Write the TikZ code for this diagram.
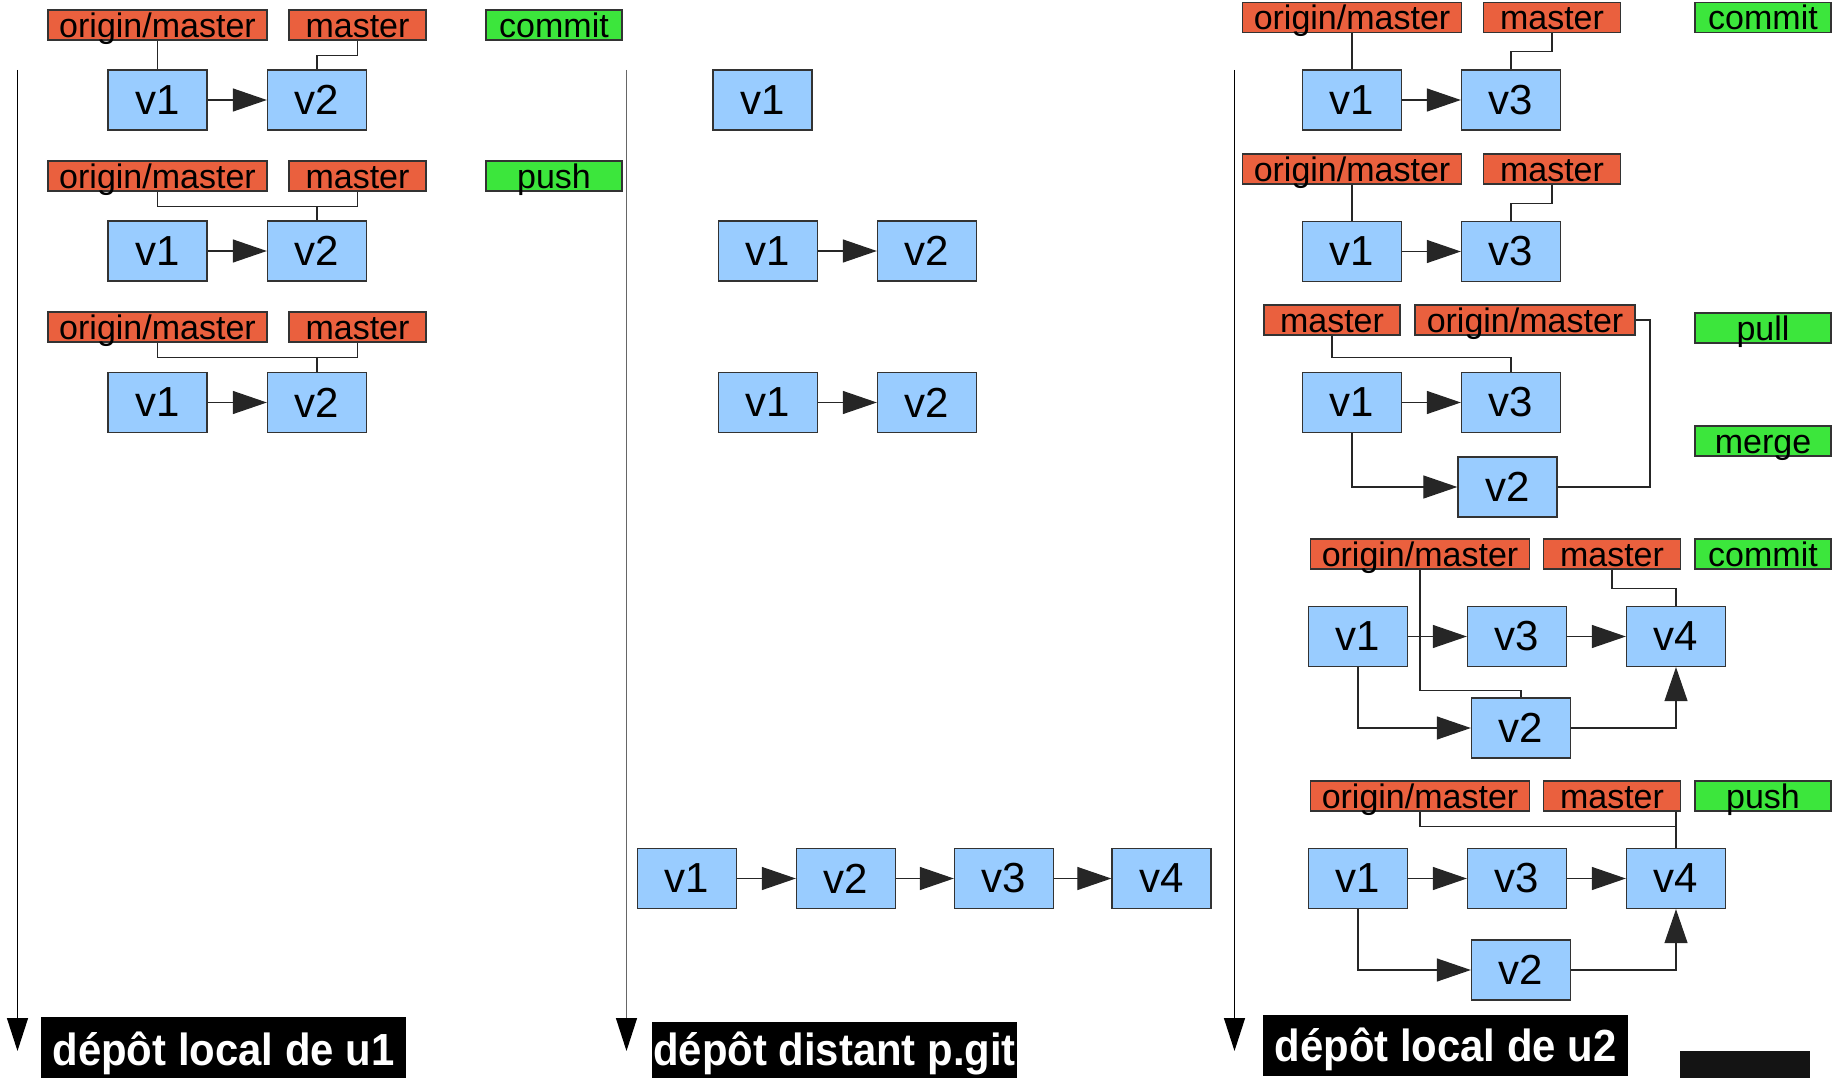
\documentclass[tikz,border=0pt]{standalone}
\usepackage{fontspec}
\setmainfont{Liberation Sans}
\newfontfamily\repofont{Liberation Sans}[FakeStretch=0.93]
\usetikzlibrary{arrows.meta}

\definecolor{refred}{HTML}{EA603E}
\definecolor{cmdgreen}{HTML}{3CE63C}
\definecolor{commitblue}{HTML}{99CCFF}

\tikzset{
  commitbox/.style={draw=black!80, line width=1.3pt, fill=commitblue,
    minimum width=99pt, minimum height=60pt, inner sep=0pt,
    font=\fontsize{42}{50}\selectfont},
  refbox/.style={draw=black!80, line width=1.3pt, fill=refred,
    minimum height=30pt, inner sep=0pt, text height=25pt, text depth=0pt,
    font=\fontsize{34}{40}\selectfont},
  longref/.style={refbox, minimum width=219pt},
  shortref/.style={refbox, minimum width=137pt},
  cmdbox/.style={refbox, fill=cmdgreen, minimum width=136pt},
  link/.style={draw=black!85, line width=1.2pt},
  nextc/.style={link, -{Triangle[length=34pt,width=23pt]}},
  timeline/.style={line width=1.3pt, -{Triangle[length=33pt,width=21pt,color=black]}},
  repotitle/.style={fill=black, text=white, inner sep=0pt,
    minimum width=365pt, minimum height=61pt, text depth=0pt,
    font=\repofont\fontsize{45}{52}\selectfont\bfseries},
}

\begin{document}
\begin{tikzpicture}[x=1pt,y=-1pt]
\useasboundingbox (0,0) rectangle (1832,1078);

% ---------- time axes ----------
\coordinate (t1s) at (17.5,70);   \coordinate (t1e) at (17.5,1051);
\coordinate (t2s) at (626.5,70);  \coordinate (t2e) at (626.5,1051);
\coordinate (t3s) at (1234.5,70); \coordinate (t3e) at (1234.5,1051);
\draw[timeline] (t1s) -- (t1e);
\draw[timeline, draw=black!60] (t2s) -- (t2e);
\draw[timeline] (t3s) -- (t3e);

% ---------- local repository of u1 ----------
% step 1: commit
\node[longref]  (a1o) at (157.5,25) {origin/master};
\node[shortref] (a1m) at (357.5,25) {master};
\node[cmdbox]   (a1c) at (554,25) {commit};
\node[commitbox] (a1v1) at (157.5,100) {v1};
\node[commitbox] (a1v2) at (317,100) {v2};
\draw[nextc] (a1v1) -- (a1v2);
\draw[link] (a1o.south) -- (a1v1.north);
\draw[link] (a1m.south) -- ++(0,15) -| (a1v2.north);

% step 2: push
\node[longref]  (a2o) at (157.5,176) {origin/master};
\node[shortref] (a2m) at (357.5,176) {master};
\node[cmdbox]   (a2c) at (554,176) {push};
\node[commitbox] (a2v1) at (157.5,251) {v1};
\node[commitbox] (a2v2) at (317,251) {v2};
\draw[nextc] (a2v1) -- (a2v2);
\draw[link] (a2o.south) -- ++(0,15) -| (a2v2.north);
\draw[link] (a2m.south) -- ++(0,15) -| (a2v2.north);

% step 3
\node[longref]  (a3o) at (157.5,327) {origin/master};
\node[shortref] (a3m) at (357.5,327) {master};
\node[commitbox] (a3v1) at (157.5,402.5) {v1};
\node[commitbox] (a3v2) at (317,402.5) {v2};
\draw[nextc] (a3v1) -- (a3v2);
\draw[link] (a3o.south) -- ++(0,15) -| (a3v2.north);
\draw[link] (a3m.south) -- ++(0,15) -| (a3v2.north);

\node[repotitle, text height=35pt] (ta) at (223.5,1047.5) {dépôt local de u1};

% ---------- remote repository p.git ----------
\node[commitbox] (b1v1) at (762.5,100) {v1};

\node[commitbox] (b2v1) at (768,251) {v1};
\node[commitbox] (b2v2) at (927,251) {v2};
\draw[nextc] (b2v1) -- (b2v2);

\node[commitbox] (b3v1) at (768,402.5) {v1};
\node[commitbox] (b3v2) at (927,402.5) {v2};
\draw[nextc] (b3v1) -- (b3v2);

\node[commitbox] (b4v1) at (687,878.5) {v1};
\node[commitbox] (b4v2) at (846,878.5) {v2};
\node[commitbox] (b4v3) at (1004,878.5) {v3};
\node[commitbox] (b4v4) at (1161.5,878.5) {v4};
\draw[nextc] (b4v1) -- (b4v2);
\draw[nextc] (b4v2) -- (b4v3);
\draw[nextc] (b4v3) -- (b4v4);

\node[repotitle, minimum height=56pt, text height=30pt] (tb) at (834.5,1050) {dépôt distant p.git};

% ---------- local repository of u2 ----------
% step 1: commit
\node[longref]  (c1o) at (1352,17.5) {origin/master};
\node[shortref] (c1m) at (1552,17.5) {master};
\node[cmdbox]   (c1c) at (1763,17.5) {commit};
\node[commitbox] (c1v1) at (1352,100) {v1};
\node[commitbox] (c1v3) at (1511,100) {v3};
\draw[nextc] (c1v1) -- (c1v3);
\draw[link] (c1o.south) -- (c1v1.north);
\draw[link] (c1m.south) -- ++(0,18) -| (c1v3.north);

% step 2
\node[longref]  (c2o) at (1352,169) {origin/master};
\node[shortref] (c2m) at (1552,169) {master};
\node[commitbox] (c2v1) at (1352,251.5) {v1};
\node[commitbox] (c2v3) at (1511,251.5) {v3};
\draw[nextc] (c2v1) -- (c2v3);
\draw[link] (c2o.south) -- (c2v1.north);
\draw[link] (c2m.south) -- ++(0,19) -| (c2v3.north);

% step 3: pull, merge
\node[refbox, minimum width=136pt] (c3m) at (1332,320) {master};
\node[refbox, minimum width=220pt] (c3o) at (1525,320) {origin/master};
\node[cmdbox] (c3p) at (1763,328) {pull};
\node[cmdbox] (c3g) at (1763,441) {merge};
\node[commitbox] (c3v1) at (1352,402.5) {v1};
\node[commitbox] (c3v3) at (1511,402.5) {v3};
\node[commitbox] (c3v2) at (1507.5,487) {v2};
\draw[nextc] (c3v1) -- (c3v3);
\draw[nextc] (c3v1.south) |- (c3v2.west);
\draw[link] (c3m.south) -- ++(0,22) -| (c3v3.north);
\coordinate (c3turn) at (1650,320);
\draw[link] (c3o.east) -- (c3turn) |- (c3v2.east);

% step 4: commit
\node[longref]  (c4o) at (1420,554) {origin/master};
\node[shortref] (c4m) at (1612,554) {master};
\node[cmdbox]   (c4c) at (1763,554) {commit};
\node[commitbox] (c4v1) at (1358,636.5) {v1};
\node[commitbox] (c4v3) at (1517,636.5) {v3};
\node[commitbox] (c4v4) at (1676,636.5) {v4};
\node[commitbox] (c4v2) at (1521,728) {v2};
\draw[nextc] (c4v1) -- (c4v3);
\draw[nextc] (c4v3) -- (c4v4);
\draw[nextc] (c4v1.south) |- (c4v2.west);
\draw[nextc] (c4v2.east) -| (c4v4.south);
\draw[link] (c4o.south) -- ++(0,120.5) -| (c4v2.north);
\draw[link] (c4m.south) -- ++(0,18.5) -| (c4v4.north);

% step 5: push
\node[longref]  (c5o) at (1420,796) {origin/master};
\node[shortref] (c5m) at (1612,796) {master};
\node[cmdbox]   (c5c) at (1763,796) {push};
\node[commitbox] (c5v1) at (1358,878.5) {v1};
\node[commitbox] (c5v3) at (1517,878.5) {v3};
\node[commitbox] (c5v4) at (1676,878.5) {v4};
\node[commitbox] (c5v2) at (1521,970) {v2};
\draw[nextc] (c5v1) -- (c5v3);
\draw[nextc] (c5v3) -- (c5v4);
\draw[nextc] (c5v1.south) |- (c5v2.west);
\draw[nextc] (c5v2.east) -| (c5v4.south);
\draw[link] (c5o.south) -- ++(0,15) -| (c5v4.north);
\draw[link] (c5m.south -| c5v4.north) -- (c5v4.north);

\node[repotitle, text height=31pt] (tc) at (1445.5,1045.5) {dépôt local de u2};

% dark block in the lower right corner
\fill[black!92] (1680,1051) rectangle (1810,1078);
\end{tikzpicture}
\end{document}
